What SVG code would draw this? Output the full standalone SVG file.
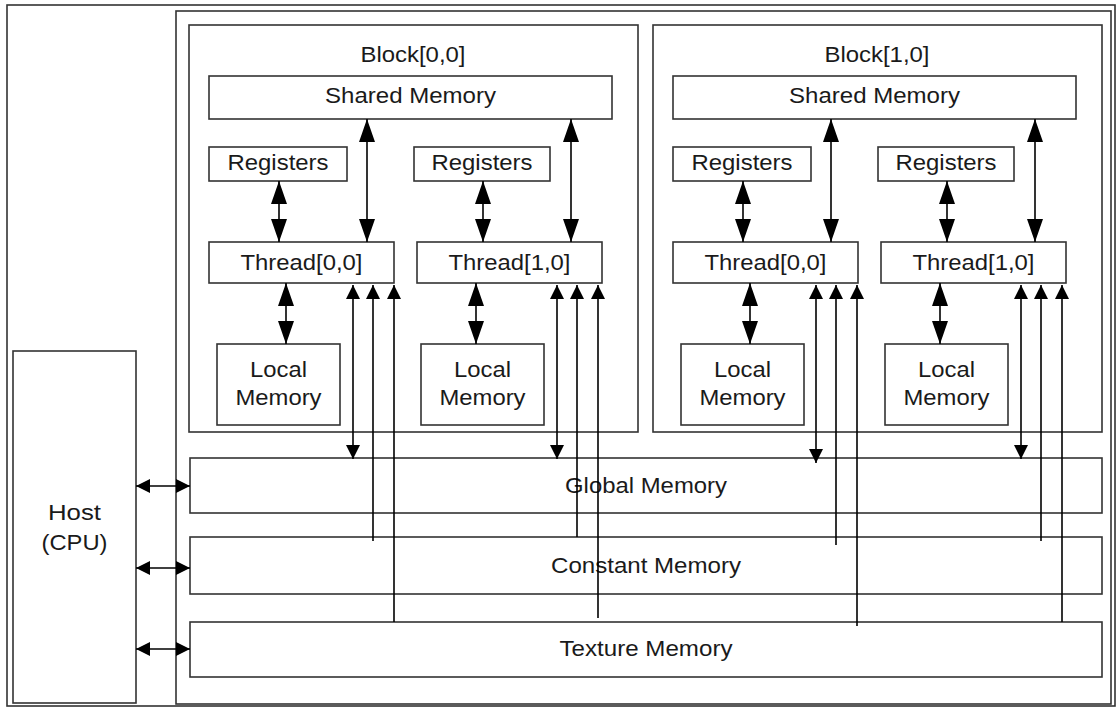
<svg xmlns="http://www.w3.org/2000/svg" width="1118" height="709" viewBox="0 0 1118 709">
  <style>
    .box { fill: #ffffff; stroke: #333333; stroke-width: 1.6; }
    .frame { fill: none; stroke: #333333; stroke-width: 1.6; }
    .lbl { font-family: "Liberation Sans", Arial, sans-serif; font-size: 22.5px; fill: #1a1a1a; text-anchor: middle; }
    .wire { fill: none; stroke: #000000; stroke-width: 1.6; }
    .big { marker-start: url(#headBig); marker-end: url(#headBig); }
    .dbl { marker-start: url(#headSmall); marker-end: url(#headSmall); }
    .up { marker-start: url(#headSmall); }
  </style>
  <defs>
    <marker id="headBig" markerUnits="userSpaceOnUse" markerWidth="24" markerHeight="18" refX="23" refY="8" orient="auto-start-reverse">
      <path d="M0,0 L23,8 L0,16 z" fill="#000000"/>
    </marker>
    <marker id="headSmall" markerUnits="userSpaceOnUse" markerWidth="15" markerHeight="15" refX="14" refY="7" orient="auto-start-reverse">
      <path d="M0,0 L14,7 L0,14 z" fill="#000000"/>
    </marker>
  </defs>

  <rect width="1118" height="709" fill="#ffffff"/>

  <!-- outer frame and device frame -->
  <rect id="outer" class="frame" x="7" y="5" width="1108" height="701"/>
  <rect id="device" class="frame" x="176" y="11" width="935" height="693"/>

  <!-- host -->
  <g id="host">
    <rect class="box" x="13" y="351" width="123" height="352"/>
    <text class="lbl" x="74.5" y="520" textLength="53" lengthAdjust="spacingAndGlyphs">Host</text>
    <text class="lbl" x="74.5" y="550" textLength="66" lengthAdjust="spacingAndGlyphs">(CPU)</text>
  </g>

  <!-- block [0,0] -->
  <g id="block00">
    <rect class="box" x="189" y="25" width="449" height="407"/>
    <text class="lbl" x="413" y="62" textLength="105" lengthAdjust="spacingAndGlyphs">Block[0,0]</text>
  </g>
  <g id="shared00">
    <rect class="box" x="209" y="76" width="403" height="43"/>
    <text class="lbl" x="410.5" y="103" textLength="171" lengthAdjust="spacingAndGlyphs">Shared Memory</text>
  </g>
  <g id="reg00a">
    <rect class="box" x="209" y="147" width="138" height="34"/>
    <text class="lbl" x="278" y="170" textLength="101" lengthAdjust="spacingAndGlyphs">Registers</text>
  </g>
  <g id="reg00b">
    <rect class="box" x="414" y="147" width="136" height="34"/>
    <text class="lbl" x="482" y="170" textLength="101" lengthAdjust="spacingAndGlyphs">Registers</text>
  </g>
  <g id="thr00a">
    <rect class="box" x="209" y="242" width="185" height="41"/>
    <text class="lbl" x="301.5" y="269.5" textLength="122" lengthAdjust="spacingAndGlyphs">Thread[0,0]</text>
  </g>
  <g id="thr00b">
    <rect class="box" x="417" y="242" width="185" height="41"/>
    <text class="lbl" x="509.5" y="269.5" textLength="122" lengthAdjust="spacingAndGlyphs">Thread[1,0]</text>
  </g>
  <g id="loc00a">
    <rect class="box" x="217" y="344" width="123" height="81"/>
    <text class="lbl" x="278.5" y="377" textLength="57" lengthAdjust="spacingAndGlyphs">Local</text>
    <text class="lbl" x="278.5" y="405" textLength="86" lengthAdjust="spacingAndGlyphs">Memory</text>
  </g>
  <g id="loc00b">
    <rect class="box" x="421" y="344" width="123" height="81"/>
    <text class="lbl" x="482.5" y="377" textLength="57" lengthAdjust="spacingAndGlyphs">Local</text>
    <text class="lbl" x="482.5" y="405" textLength="86" lengthAdjust="spacingAndGlyphs">Memory</text>
  </g>

  <!-- block [1,0] -->
  <g id="block10">
    <rect class="box" x="653" y="25" width="449" height="407"/>
    <text class="lbl" x="877" y="62" textLength="105" lengthAdjust="spacingAndGlyphs">Block[1,0]</text>
  </g>
  <g id="shared10">
    <rect class="box" x="673" y="76" width="403" height="43"/>
    <text class="lbl" x="874.5" y="103" textLength="171" lengthAdjust="spacingAndGlyphs">Shared Memory</text>
  </g>
  <g id="reg10a">
    <rect class="box" x="673" y="147" width="138" height="34"/>
    <text class="lbl" x="742" y="170" textLength="101" lengthAdjust="spacingAndGlyphs">Registers</text>
  </g>
  <g id="reg10b">
    <rect class="box" x="878" y="147" width="136" height="34"/>
    <text class="lbl" x="946" y="170" textLength="101" lengthAdjust="spacingAndGlyphs">Registers</text>
  </g>
  <g id="thr10a">
    <rect class="box" x="673" y="242" width="185" height="41"/>
    <text class="lbl" x="765.5" y="269.5" textLength="122" lengthAdjust="spacingAndGlyphs">Thread[0,0]</text>
  </g>
  <g id="thr10b">
    <rect class="box" x="881" y="242" width="185" height="41"/>
    <text class="lbl" x="973.5" y="269.5" textLength="122" lengthAdjust="spacingAndGlyphs">Thread[1,0]</text>
  </g>
  <g id="loc10a">
    <rect class="box" x="681" y="344" width="123" height="81"/>
    <text class="lbl" x="742.5" y="377" textLength="57" lengthAdjust="spacingAndGlyphs">Local</text>
    <text class="lbl" x="742.5" y="405" textLength="86" lengthAdjust="spacingAndGlyphs">Memory</text>
  </g>
  <g id="loc10b">
    <rect class="box" x="885" y="344" width="123" height="81"/>
    <text class="lbl" x="946.5" y="377" textLength="57" lengthAdjust="spacingAndGlyphs">Local</text>
    <text class="lbl" x="946.5" y="405" textLength="86" lengthAdjust="spacingAndGlyphs">Memory</text>
  </g>

  <!-- device-wide memories -->
  <g id="global">
    <rect class="box" x="190" y="458" width="912" height="55"/>
    <text class="lbl" x="646" y="493" textLength="162" lengthAdjust="spacingAndGlyphs">Global Memory</text>
  </g>
  <g id="constant">
    <rect class="box" x="190" y="537" width="912" height="57"/>
    <text class="lbl" x="646" y="573" textLength="190" lengthAdjust="spacingAndGlyphs">Constant Memory</text>
  </g>
  <g id="texture">
    <rect class="box" x="190" y="622" width="912" height="55"/>
    <text class="lbl" x="646" y="655.5" textLength="173" lengthAdjust="spacingAndGlyphs">Texture Memory</text>
  </g>

  <!-- connectors -->
  <g id="connectors">
    <!-- registers / shared / local to threads -->
    <line class="wire big" x1="279" y1="181" x2="279" y2="242"/>
    <line class="wire big" x1="367" y1="119" x2="367" y2="242"/>
    <line class="wire big" x1="286" y1="283" x2="286" y2="344"/>
    <line class="wire big" x1="483" y1="181" x2="483" y2="242"/>
    <line class="wire big" x1="571" y1="119" x2="571" y2="242"/>
    <line class="wire big" x1="476" y1="283" x2="476" y2="344"/>

    <line class="wire big" x1="743" y1="181" x2="743" y2="242"/>
    <line class="wire big" x1="831" y1="119" x2="831" y2="242"/>
    <line class="wire big" x1="750" y1="283" x2="750" y2="344"/>
    <line class="wire big" x1="947" y1="181" x2="947" y2="242"/>
    <line class="wire big" x1="1035" y1="119" x2="1035" y2="242"/>
    <line class="wire big" x1="940" y1="283" x2="940" y2="344"/>

    <!-- threads to global / constant / texture -->
    <line class="wire dbl" x1="353" y1="285" x2="353" y2="459"/>
    <line class="wire up" x1="373" y1="285" x2="373" y2="541"/>
    <line class="wire up" x1="394" y1="285" x2="394" y2="622"/>
    <line class="wire dbl" x1="557" y1="285" x2="557" y2="459"/>
    <line class="wire up" x1="577" y1="285" x2="577" y2="537"/>
    <line class="wire up" x1="598" y1="285" x2="598" y2="618"/>

    <line class="wire dbl" x1="816" y1="285" x2="816" y2="463"/>
    <line class="wire up" x1="836" y1="285" x2="836" y2="545"/>
    <line class="wire up" x1="857" y1="285" x2="857" y2="626"/>
    <line class="wire dbl" x1="1021" y1="285" x2="1021" y2="459"/>
    <line class="wire up" x1="1041" y1="285" x2="1041" y2="541"/>
    <line class="wire up" x1="1062" y1="285" x2="1062" y2="622"/>

    <!-- host links -->
    <line class="wire dbl" x1="136" y1="486" x2="190" y2="486"/>
    <line class="wire dbl" x1="136" y1="568" x2="190" y2="568"/>
    <line class="wire dbl" x1="136" y1="649" x2="190" y2="649"/>
  </g>
</svg>
